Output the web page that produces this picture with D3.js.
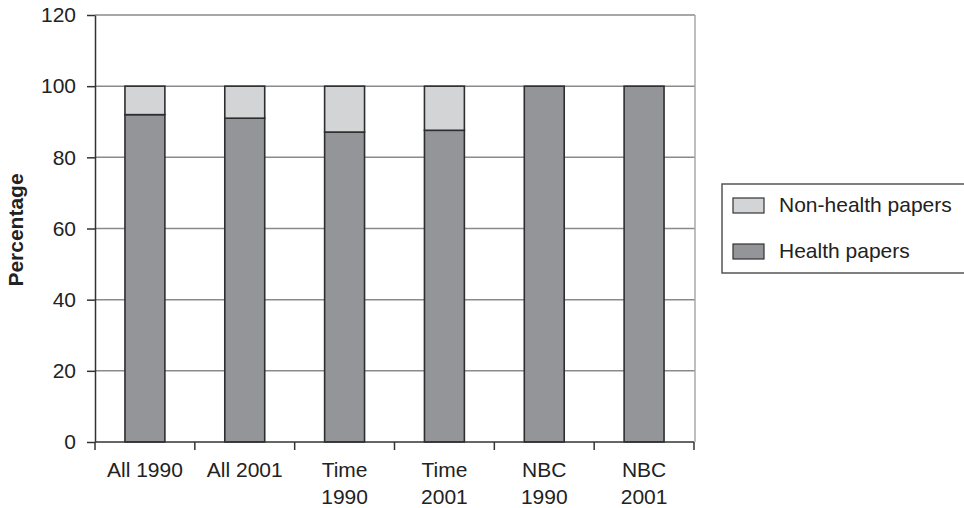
<!DOCTYPE html>
<html>
<head>
<meta charset="utf-8">
<script src="https://cdn.jsdelivr.net/npm/d3@7"></script>
<style>
  html, body { margin: 0; padding: 0; background: #fff; }
  svg { display: block; font-family: "Liberation Sans", Arial, Helvetica, sans-serif; }
</style>
</head>
<body>
<svg id="chart" width="964" height="508"></svg>
<script>
// Share of papers by source and year
const categories = [["All 1990"], ["All 2001"], ["Time", "1990"], ["Time", "2001"], ["NBC", "1990"], ["NBC", "2001"]];
const healthPapers = [92, 91, 87.1, 87.6, 100, 100];
const nonHealthPapers = [8, 9, 12.9, 12.4, 0, 0];
const yTicks = [0, 20, 40, 60, 80, 100, 120];
const seriesNames = ["Non-health papers", "Health papers"];
const seriesColors = { "Health papers": "#949598", "Non-health papers": "#d3d4d6" };

const svg = d3.select("#chart");
const plot = { left: 95, right: 694, top: 15, bottom: 442 };
const fontSize = 21;
const labels = categories.map(c => c.join(" "));

const x = d3.scaleBand().domain(labels).range([plot.left, plot.right]).paddingInner(0.6).paddingOuter(0.3);
const xEdges = d3.scaleLinear().domain([0, labels.length]).range([plot.left, plot.right]);
const y = d3.scaleLinear().domain([0, 120]).range([plot.bottom, plot.top]);

// gridlines and plot frame
svg.append("g").selectAll("line").data(yTicks.filter(v => v > 0)).join("line")
  .attr("x1", plot.left).attr("x2", plot.right + 1)
  .attr("y1", d => y(d)).attr("y2", d => y(d))
  .attr("stroke", "#8a8a8c").attr("stroke-width", 1.5);
svg.append("line").attr("x1", plot.right + 1).attr("x2", plot.right + 1).attr("y1", plot.top).attr("y2", plot.bottom)
  .attr("stroke", "#a9a9ac").attr("stroke-width", 1.5);

// stacked bars
const rows = labels.map((l, i) => ({ label: l, "Health papers": healthPapers[i], "Non-health papers": nonHealthPapers[i] }));
const stack = d3.stack().keys(["Health papers", "Non-health papers"])(rows);
svg.append("g").selectAll("g").data(stack).join("g")
  .attr("fill", d => seriesColors[d.key])
  .selectAll("rect").data(d => d.filter(p => p[1] - p[0] > 0)).join("rect")
  .attr("x", d => x(d.data.label))
  .attr("width", x.bandwidth())
  .attr("y", d => y(d[1]))
  .attr("height", d => y(d[0]) - y(d[1]))
  .attr("stroke", "#2e2e30").attr("stroke-width", 1.6);

// y axis
const yAxis = d3.axisLeft(y).tickValues(yTicks).tickSize(8).tickPadding(11).tickSizeOuter(0);
const gy = svg.append("g").attr("transform", `translate(${plot.left},0)`).call(yAxis);
gy.select(".domain").attr("stroke", "#333").attr("stroke-width", 1.5);
gy.selectAll(".tick line").attr("stroke", "#333").attr("stroke-width", 1.5);
gy.selectAll(".tick text").attr("font-size", fontSize).attr("fill", "#222").attr("font-family", null);

// x axis: ticks at band edges, labels centred in bands
const gx = svg.append("g").attr("transform", `translate(0,${plot.bottom})`);
gx.append("line").attr("x1", plot.left).attr("x2", plot.right).attr("stroke", "#333").attr("stroke-width", 1.5);
gx.selectAll("line.tk").data(d3.range(labels.length + 1)).join("line").attr("class", "tk")
  .attr("x1", d => xEdges(d)).attr("x2", d => xEdges(d)).attr("y1", 0).attr("y2", 8)
  .attr("stroke", "#333").attr("stroke-width", 1.5);
const xl = gx.selectAll("text").data(categories).join("text")
  .attr("text-anchor", "middle").attr("font-size", fontSize).attr("fill", "#222")
  .attr("transform", (d, i) => `translate(${xEdges(i + 0.5)},0)`);
xl.selectAll("tspan").data(d => d).join("tspan")
  .attr("x", 0).attr("y", (d, i) => 35 + i * 26.5).text(d => d);

// y axis title
svg.append("text").attr("transform", "translate(23,230) rotate(-90)")
  .attr("text-anchor", "middle").attr("font-size", fontSize).attr("font-weight", "bold").attr("fill", "#222")
  .text("Percentage");

// legend
const lg = svg.append("g");
lg.append("rect").attr("x", 722).attr("y", 184).attr("width", 260).attr("height", 89)
  .attr("fill", "#fff").attr("stroke", "#555").attr("stroke-width", 1.5);
const items = lg.selectAll("g").data(seriesNames).join("g")
  .attr("transform", (d, i) => `translate(733,${198 + i * 46})`);
items.append("rect").attr("width", 31).attr("height", 15)
  .attr("fill", d => seriesColors[d]).attr("stroke", "#333").attr("stroke-width", 1.2);
items.append("text").attr("x", 46).attr("y", 14).attr("font-size", fontSize).attr("fill", "#222").text(d => d);
</script>
</body>
</html>
